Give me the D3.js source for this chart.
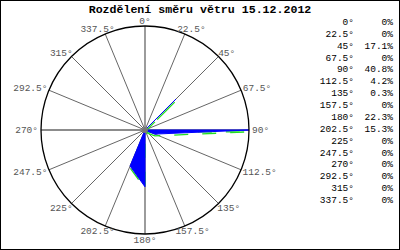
<!DOCTYPE html>
<html>
<head>
<meta charset="utf-8">
<script src="https://cdn.jsdelivr.net/npm/d3@7"></script>
<style>
  body { margin: 0; background: #fff; }
  text { font-family: "Liberation Mono", "DejaVu Sans Mono", monospace; }
</style>
</head>
<body>
<div id="graph"></div>
<script>
// smery a cetnosti (%)
const directions = [0, 22.5, 45, 67.5, 90, 112.5, 135, 157.5, 180, 202.5, 225, 247.5, 270, 292.5, 315, 337.5]
const percents = [0, 0, 17.1, 0, 40.8, 4.2, 0.3, 0, 22.3, 15.3, 0, 0, 0, 0, 0, 0]
const title = 'Rozdělení směru větru 15.12.2012'

let cw = 400, ch = 250,
  cx = 145, cy = 130, R = 104,
  svg = d3.select('#graph').append('svg')
    .attr('width', cw)
    .attr('height', ch)

svg.append('rect')
  .attr('x', 0.5).attr('y', 0.5)
  .attr('width', cw - 1).attr('height', ch - 1)
  .attr('fill', '#fff')
  .attr('stroke', '#000')

svg.append('text')
  .attr('x', 200)
  .attr('y', 13)
  .attr('text-anchor', 'middle')
  .attr('font-size', 11.6)
  .attr('font-weight', 'bold')
  .text(title)

let g = svg.append('g')
  .attr('transform', `translate(${cx}, ${cy})`)

let r = d3.scaleLinear()
  .domain([0, d3.max(percents)])
  .range([0, R])
let rad = d => d * Math.PI / 180

// paprsky
g.selectAll('line.spoke')
  .data(directions)
  .join('line')
  .attr('class', 'spoke')
  .attr('x1', 0).attr('y1', 0)
  .attr('x2', d => R * Math.sin(rad(d)))
  .attr('y2', d => -R * Math.cos(rad(d)))
  .attr('stroke', '#666')
  .attr('stroke-width', d => d % 90 === 0 ? 1.3 : 1)

let rose = d3.lineRadial()
  .angle((d, i) => rad(directions[i]))
  .radius(d => r(d))
  .curve(d3.curveLinearClosed)

g.append('path')
  .datum(percents)
  .attr('transform', 'translate(0, 1.8)')
  .attr('fill', 'none')
  .attr('stroke', '#22dd22')
  .attr('stroke-width', 1.3)
  .attr('stroke-dasharray', '14,14')
  .attr('d', rose)

g.append('path')
  .datum(percents)
  .attr('fill', '#0000ff')
  .attr('stroke', '#0000ff')
  .attr('stroke-width', 1)
  .attr('stroke-linejoin', 'round')
  .attr('d', rose)

g.append('circle')
  .attr('r', R)
  .attr('fill', 'none')
  .attr('stroke', '#000')
  .attr('stroke-width', 1.3)

g.append('circle')
  .attr('r', 3)
  .attr('fill', '#777')

// popisky smeru - box se dotyka kruhu
let labels = g.selectAll('text.dir')
  .data(directions)
  .join('text')
  .attr('class', 'dir')
  .attr('font-size', 9.5)
  .attr('fill', '#555')
  .attr('text-anchor', 'middle')
  .attr('dy', '0.35em')
  .text(d => `${d}°`)

labels.each(function (d) {
  let w = this.getComputedTextLength(), h = 8
  let s = Math.sin(rad(d)), c = Math.cos(rad(d))
  d3.select(this)
    .attr('x', (R + 3) * s + w / 2 * s)
    .attr('y', -(R + 3) * c - h / 2 * c * 0.6)
})

// legenda
let legend = svg.append('g')
  .attr('class', 'legend')
  .attr('font-size', 9.5)
let y = d3.scalePoint()
  .domain(directions)
  .range([25, 203])

legend.selectAll('text.deg')
  .data(directions)
  .join('text')
  .attr('class', 'deg')
  .attr('x', 354)
  .attr('y', d => y(d))
  .attr('text-anchor', 'end')
  .text(d => `${d}°`)

legend.selectAll('text.pct')
  .data(percents)
  .join('text')
  .attr('class', 'pct')
  .attr('x', 393)
  .attr('y', (d, i) => y(directions[i]))
  .attr('text-anchor', 'end')
  .text(d => `${d}%`)
</script>
</body>
</html>
